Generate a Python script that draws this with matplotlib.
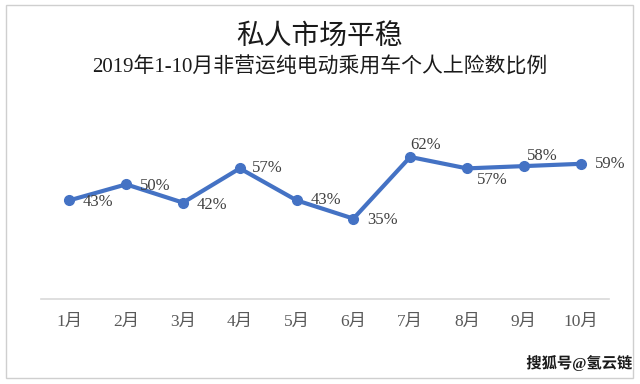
"""Private share of non-commercial BEV passenger car registrations, Jan-Oct 2019."""

import matplotlib

matplotlib.use("Agg")
import matplotlib.pyplot as plt
import matplotlib.patheffects as pe
from matplotlib.patches import Rectangle

MONTHS = ["1月", "2月", "3月", "4月", "5月", "6月", "7月", "8月", "9月", "10月"]
SHARE = [43, 50, 42, 57, 43, 35, 62, 57, 58, 59]

TITLE = "私人市场平稳"
SUBTITLE = "2019年1-10月非营运纯电动乘用车个人上险数比例"
WATERMARK = "搜狐号@氢云链"

FONT = ["Liberation Serif", "Noto Sans CJK SC", "DejaVu Sans"]
LINE = "#4472c4"

# label offsets in pixels (dx right, dy up), roughly where Excel put them
OFFSETS = [(29, -2), (29, -2), (29, -2), (28, 0), (29, 0),
           (29, -1), (15, 12), (25, -12), (19, 10), (30, 0)]

plt.rcParams["font.family"] = FONT

fig = plt.figure(figsize=(6.4, 3.84), dpi=100)
fig.patches.append(Rectangle((6 / 640, 6 / 384), 627 / 640, 373 / 384,
                             transform=fig.transFigure, fill=False,
                             edgecolor="#cfcfcf", linewidth=1.0))

ax = fig.add_axes([41 / 640, 85.5 / 384, 568 / 640, 210 / 384])
x = range(len(MONTHS))
ax.plot(x, SHARE, color=LINE, linewidth=3.0, marker="o", markersize=7,
        solid_capstyle="round")
ax.set_xlim(-0.5, len(MONTHS) - 0.5)
ax.set_ylim(0, 92)
ax.set_yticks([])
ax.set_xticks(list(x))
ax.set_xticklabels(MONTHS, fontsize=12.5, color="#595959")
ax.tick_params(axis="x", length=0, pad=11)
for side in ("top", "right", "left"):
    ax.spines[side].set_visible(False)
ax.spines["bottom"].set_color("#d9d9d9")
ax.spines["bottom"].set_linewidth(1.2)

for i, val in enumerate(SHARE):
    dx, dy = OFFSETS[i]
    ax.annotate(f"{val}%", (i, val), xytext=(dx * 0.72, dy * 0.72),
                textcoords="offset points", ha="center", va="center",
                fontsize=12, color="#404040")

fig.text(0.5, 1 - 38 / 384, TITLE, ha="center", va="center",
         fontsize=20, color="#1a1a1a")
fig.text(0.5, 1 - 68 / 384, SUBTITLE, ha="center", va="center",
         fontsize=15, color="#1a1a1a")
fig.text(632 / 640, 1 - 363 / 384, WATERMARK, ha="right", va="center",
         fontsize=11, color="#1a1a1a", fontweight="bold",
         path_effects=[pe.withStroke(linewidth=2, foreground="white")])

fig.savefig("out.png", dpi=100)
